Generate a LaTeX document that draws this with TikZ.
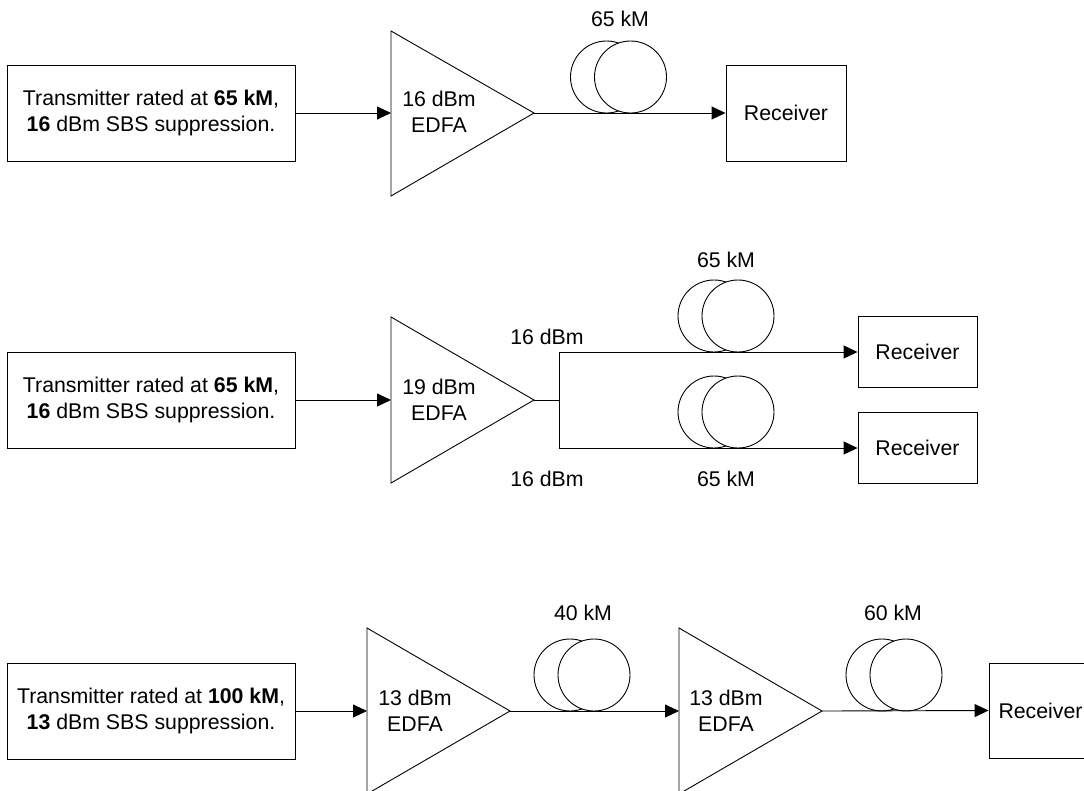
\documentclass[tikz,border=0pt]{standalone}
\usepackage{fontspec}
\setmainfont{Liberation Sans}
\usetikzlibrary{arrows.meta}
\newcommand{\dfont}{\fontsize{21.3}{26}\selectfont}
\begin{document}
\begin{tikzpicture}[x=1pt,y=-1pt,line width=0.9pt,
  every node/.style={font=\dfont,inner sep=0pt,align=center},
  txbox/.style={draw,minimum width=288pt,minimum height=96pt},
  rxbox/.style={draw,minimum width=120pt,minimum height=96pt},
  rxsmall/.style={draw,minimum width=119pt,minimum height=71pt},
  coil/.style={draw,fill=white,circle,minimum size=72pt},
  amp/.style={draw,line join=miter},
  arr/.style={-{Triangle[length=14pt,width=13pt]}}]
\clip (0,0) rectangle (1084,790);
\fill[white] (0,0) rectangle (1084,790);

% ---------------- row 1 ----------------
\node[txbox] (tx1) at (151,113) {Transmitter rated at \textbf{65 kM},\\\textbf{16} dBm SBS suppression.};
\draw[amp] (391,31) -- (534,113) -- (391,196) -- cycle;
\coordinate (a1in) at (391,113);
\coordinate (a1out) at (534,113);
\node (a1t) at (439,112) {16 dBm\\EDFA};
\node[coil] (c1a) at (606.5,77) {};
\node[coil] (c1b) at (630.5,77) {};
\node (l1) at (620,19) {65 kM};
\node[rxbox] (rx1) at (786,113) {Receiver};
\draw[arr] (tx1.east) -- (a1in);
\draw[arr] (a1out) -- (rx1.west);

% ---------------- row 2 ----------------
\node[txbox] (tx2) at (151,400) {Transmitter rated at \textbf{65 kM},\\\textbf{16} dBm SBS suppression.};
\draw[amp] (391,317) -- (534,400) -- (391,483) -- cycle;
\coordinate (a2in) at (391,400);
\coordinate (a2out) at (534,400);
\coordinate (split) at (559,400);
\node (a2t) at (439,400) {19 dBm\\EDFA};
\node[coil] (c2a) at (714,316) {};
\node[coil] (c2b) at (738,316) {};
\node[coil] (c3a) at (714,412) {};
\node[coil] (c3b) at (738,412) {};
\node (l2) at (726,260) {65 kM};
\node (l3) at (726,479) {65 kM};
\node (p2a) at (547,337) {16 dBm};
\node (p2b) at (547,479) {16 dBm};
\node[rxsmall] (rx2a) at (917.5,352) {Receiver};
\node[rxsmall] (rx2b) at (917.5,448) {Receiver};
\draw[arr] (tx2.east) -- (a2in);
\draw (a2out) -- (split);
\draw[arr] (split) |- (rx2a.west);
\draw[arr] (split) |- (rx2b.west);

% ---------------- row 3 ----------------
\node[txbox] (tx3) at (151,711) {Transmitter rated at \textbf{100 kM},\\\textbf{13} dBm SBS suppression.};
\draw[amp] (367,628) -- (510,711) -- (367,794) -- cycle;
\coordinate (a3in) at (367,711);
\coordinate (a3out) at (510,711);
\node (a3t) at (415,710.5) {13 dBm\\EDFA};
\node[coil] (c4a) at (570,675) {};
\node[coil] (c4b) at (594,675) {};
\node (l4) at (583,613) {40 kM};
\draw[amp] (679,628) -- (822,711) -- (679,794) -- cycle;
\coordinate (a4in) at (679,711);
\coordinate (a4out) at (822,711);
\node (a4t) at (726,710.5) {13 dBm\\EDFA};
\node[coil] (c5a) at (882,675) {};
\node[coil] (c5b) at (906,675) {};
\node (l5) at (893,613) {60 kM};
\node[rxbox,minimum height=95pt] (rx3) at (1049,710.5) {};
\node[anchor=east] (rx3t) at (1083,711) {Receiver};
\draw[arr] (tx3.east) -- (a3in);
\draw[arr] (a3out) -- (a4in);
\draw[arr] (a4out) -- (rx3.west);
\end{tikzpicture}
\end{document}
